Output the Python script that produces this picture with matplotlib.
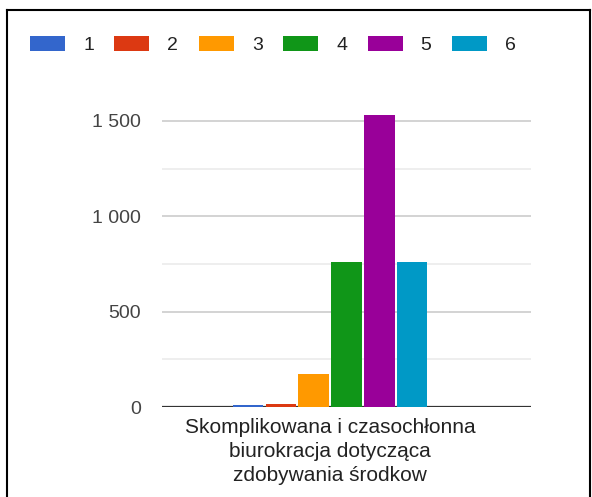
import matplotlib.pyplot as plt
from matplotlib.patches import Patch
from matplotlib.lines import Line2D

plt.rcParams['font.family'] = ['Liberation Sans', 'DejaVu Sans']

series = ['1', '2', '3', '4', '5', '6']
values = [10, 15, 173, 760, 1531, 760]
colors = ['#3366CC', '#DC3912', '#FF9900', '#109618', '#990099', '#0099C6']
category = 'Skomplikowana i czasochłonna\nbiurokracja dotycząca\nzdobywania środkow'
major_ticks = [0, 500, 1000, 1500]
major_labels = ['0', '500', '1 000', '1 500']
minor_ticks = [250, 750, 1250]

fig = plt.figure(figsize=(5.92, 4.97), dpi=100)
ax = fig.add_axes([162/592, 90/497, 369/592, 297.5/497])

positions = [i - 2.5 for i in range(len(series))]
ax.bar(positions, values, width=0.93, color=colors, zorder=5)

ax.set_xlim(-5.12, 6.12)
ax.set_ylim(0, 1560)

for y in minor_ticks:
    ax.axhline(y, color='#ebebeb', lw=1.2, zorder=1)
for y in major_ticks[1:]:
    ax.axhline(y, color='#cccccc', lw=1.2, zorder=1)
ax.axhline(0, color='#333333', lw=1.6, zorder=4)

ax.set_yticks(major_ticks)
ax.set_yticklabels(major_labels, fontsize=14, color='#444444')
ax.tick_params(axis='y', length=0, pad=15)
ax.set_xticks([0])
ax.set_xticklabels([category], fontsize=15, color='#222222', linespacing=1.34)
ax.tick_params(axis='x', length=0, pad=8)
for s in ax.spines.values():
    s.set_visible(False)

handles = [Patch(facecolor=c, edgecolor='none') for c in colors]
fig.legend(handles, series, loc='center left', bbox_to_anchor=(30/592, 1 - 45/497),
           ncol=6, frameon=False, fontsize=14, handlelength=1.8, handleheight=0.8,
           columnspacing=1.05, handletextpad=0.93, borderpad=0, borderaxespad=0,
           labelcolor='#222222')

# outer frame of the screenshot
fig.add_artist(Line2D([7/592, 7/592], [0, 1 - 10/497], color='black', lw=1.5, transform=fig.transFigure))
fig.add_artist(Line2D([7/592, 590/592], [1 - 10/497, 1 - 10/497], color='black', lw=1.5, transform=fig.transFigure))
fig.add_artist(Line2D([590/592, 590/592], [0, 1 - 10/497], color='black', lw=1.5, transform=fig.transFigure))

fig.savefig('out.png', dpi=100)
